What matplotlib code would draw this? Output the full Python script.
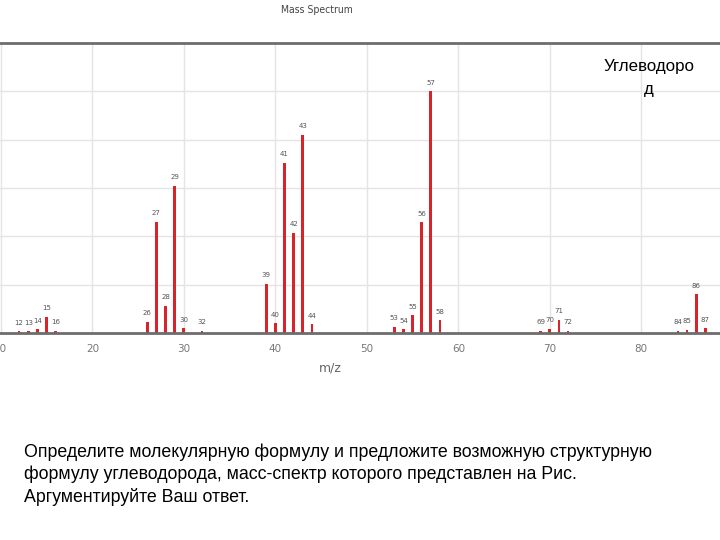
import matplotlib
matplotlib.use("Agg")
import matplotlib.pyplot as plt

mz = [12, 13, 14, 15, 16, 26, 27, 28, 29, 30, 32, 39, 40, 41, 42, 43, 44,
      53, 54, 55, 56, 57, 58, 69, 70, 71, 72, 84, 85, 86, 87]
intensity = [0.8, 0.8, 1.5, 6.7, 1.0, 4.7, 46, 11.3, 61, 2.0, 1.0, 20.4, 4.0, 70.5, 41.5, 82, 3.6,
             2.6, 1.5, 7.3, 45.8, 100, 5.3, 1.0, 1.7, 5.5, 1.0, 1.0, 1.4, 16, 2.0]
xticks = [10, 20, 30, 40, 50, 60, 70, 80]
yticks = [0, 20, 40, 60, 80, 100, 120]

title = "Mass Spectrum"
xlabel = "m/z"
side_text = "Углеводоро\nд"
question = ("Определите молекулярную формулу и предложите возможную структурную\n"
            "формулу углеводорода, масс-спектр которого представлен на Рис.\n"
            "Аргументируйте Ваш ответ.")

fig = plt.figure(figsize=(7.2, 5.4), dpi=100)
ax = fig.add_axes([0, (540 - 333) / 540, 1, (333 - 43) / 540])

ax.bar(mz, intensity, width=0.3, color="#d9232b", zorder=3)
for x, y in zip(mz, intensity):
    ax.annotate(str(x), (x, y), xytext=(0, 4), textcoords="offset points",
                ha="center", va="bottom", fontsize=5, color="#555555")

ax.set_xlim(9.91, 88.6)
ax.set_ylim(0, 120)
ax.set_xticks(xticks)
ax.set_yticks(yticks)
ax.tick_params(axis="x", length=0, pad=8, labelsize=7.5, labelcolor="#777777")
ax.tick_params(axis="y", length=0, labelleft=False)
ax.grid(True, color="#e4e4e4", linewidth=1, zorder=0)
for s in ["left", "right"]:
    ax.spines[s].set_visible(False)
for s in ["top", "bottom"]:
    ax.spines[s].set_color("#6d6d6d")
    ax.spines[s].set_linewidth(2)
    ax.spines[s].set_zorder(4)

fig.text(330 / 720, 1 - 368 / 540, xlabel, ha="center", va="center",
         fontsize=9, color="#666666")
fig.text(317 / 720, 1 - 10 / 540, title, ha="center", va="center",
         fontsize=7.5, color="#444444", fontstretch="condensed")
fig.text(649 / 720, 1 - 78 / 540, side_text, ha="center", va="center",
         fontsize=12.2, color="black", family="Liberation Sans", linespacing=1.7)
fig.text(24 / 720, 1 - 475 / 540, question, ha="left", va="center",
         fontsize=12.8, color="black", family="Liberation Sans", linespacing=1.35)

fig.savefig("out.png", dpi=100)
